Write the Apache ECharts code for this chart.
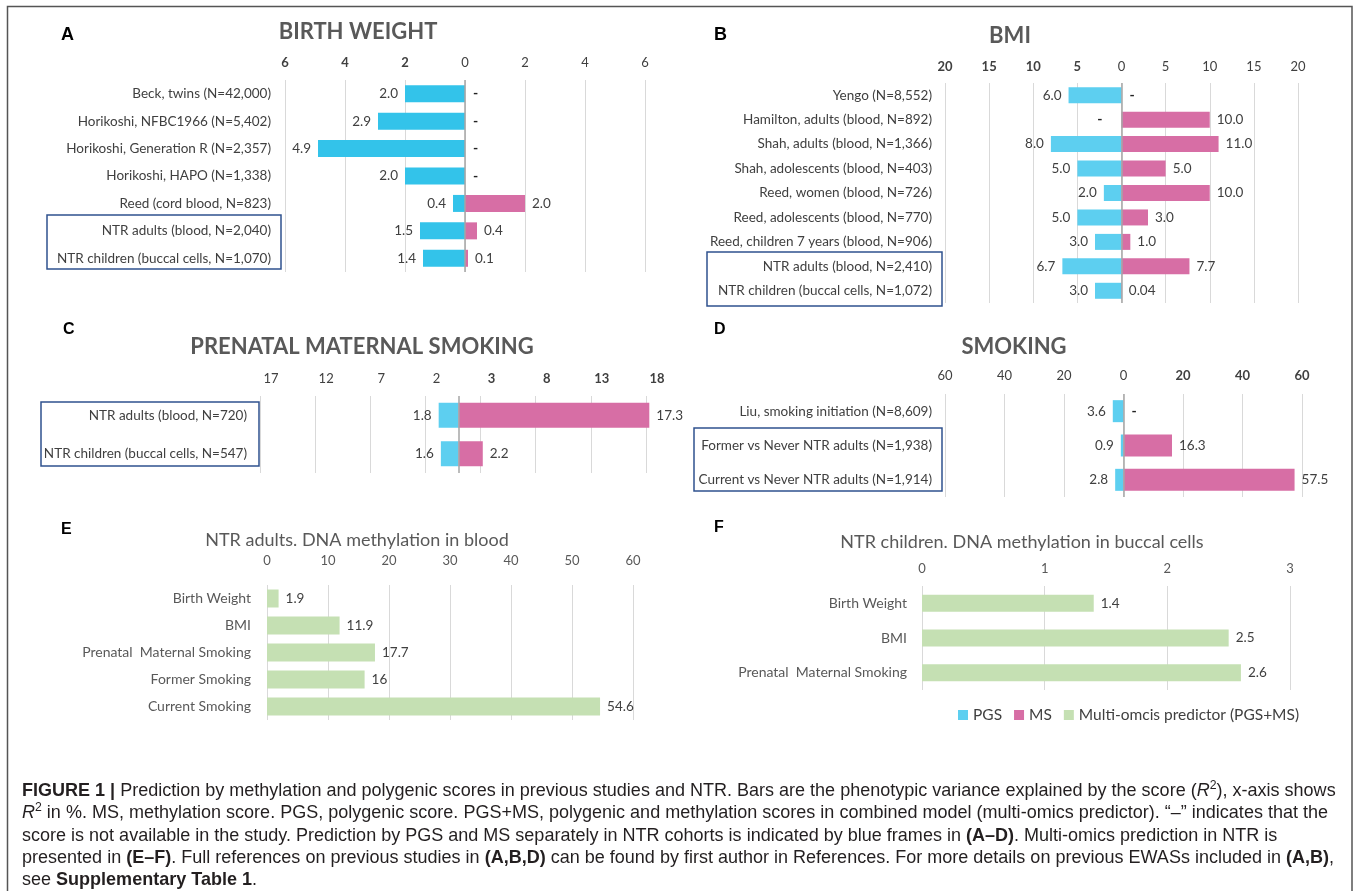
<!DOCTYPE html>
<html><head><meta charset="utf-8">
<script src="https://cdn.jsdelivr.net/npm/echarts@6/dist/echarts.min.js"></script>
<style>
html,body{margin:0;padding:0;background:#fff;}
#chart{position:absolute;left:0;top:0;width:1357px;height:891px;}
#caption{position:absolute;left:22px;top:779px;font-family:"Liberation Sans",Arial,sans-serif;color:#231f20;line-height:22.3px;font-size:17px;}
#caption div{white-space:nowrap;}
#caption sup{font-size:0.68em;line-height:0;}
</style></head><body>
<div id="chart"></div>
<div id="caption">
<div id="cap1"><b>FIGURE 1 |</b> Prediction by methylation and polygenic scores in previous studies and NTR. Bars are the phenotypic variance explained by the score (<i>R</i><sup>2</sup>), x-axis shows</div>
<div><i>R</i><sup>2</sup> in %. MS, methylation score. PGS, polygenic score. PGS+MS, polygenic and methylation scores in combined model (multi-omics predictor). “–” indicates that the</div>
<div>score is not available in the study. Prediction by PGS and MS separately in NTR cohorts is indicated by blue frames in <b>(A–D)</b>. Multi-omics prediction in NTR is</div>
<div>presented in <b>(E–F)</b>. Full references on previous studies in <b>(A,B,D)</b> can be found by first author in References. For more details on previous EWASs included in <b>(A,B)</b>,</div>
<div>see <b>Supplementary Table 1</b>.</div>
</div>
<script>
// ---------------- DATA ----------------
const A_cats = ['Beck, twins (N=42,000)', 'Horikoshi, NFBC1966 (N=5,402)', 'Horikoshi, Generation R (N=2,357)', 'Horikoshi, HAPO (N=1,338)', 'Reed (cord blood, N=823)', 'NTR adults (blood, N=2,040)', 'NTR children (buccal cells, N=1,070)'];
const A_pgs = [2.0, 2.9, 4.9, 2.0, 0.4, 1.5, 1.4];
const A_ms = [null, null, null, null, 2.0, 0.4, 0.1];

const B_cats = ['Yengo (N=8,552)', 'Hamilton, adults (blood, N=892)', 'Shah, adults (blood, N=1,366)', 'Shah, adolescents (blood, N=403)', 'Reed, women (blood, N=726)', 'Reed, adolescents (blood, N=770)', 'Reed, children 7 years (blood, N=906)', 'NTR adults (blood, N=2,410)', 'NTR children (buccal cells, N=1,072)'];
const B_pgs = [6.0, null, 8.0, 5.0, 2.0, 5.0, 3.0, 6.7, 3.0];
const B_ms = [null, 10.0, 11.0, 5.0, 10.0, 3.0, 1.0, 7.7, 0.04];

const C_cats = ['NTR adults (blood, N=720)', 'NTR children (buccal cells, N=547)'];
const C_pgs = [1.8, 1.6];
const C_ms = [17.3, 2.2];
const C_tickLabels = ['17', '12', '7', '2', '3', '8', '13', '18'];

const D_cats = ['Liu, smoking initiation (N=8,609)', 'Former vs Never NTR adults (N=1,938)', 'Current vs Never NTR adults (N=1,914)'];
const D_pgs = [3.6, 0.9, 2.8];
const D_ms = [null, 16.3, 57.5];

const E_cats = ['Birth Weight', 'BMI', 'Prenatal  Maternal Smoking', 'Former Smoking', 'Current Smoking'];
const E_vals = [1.9, 11.9, 17.7, 16, 54.6];

const F_cats = ['Birth Weight', 'BMI', 'Prenatal  Maternal Smoking'];
const F_vals = [1.4, 2.5, 2.6];

const NAME_PGS = 'PGS', NAME_MS = 'MS', NAME_MULTI = 'Multi-omcis predictor (PGS+MS)';

// ---------------- STYLE / LAYOUT ----------------
const FONT = 'Lato, "Open Sans", sans-serif';
const TXT = '#404040';
const BLUE_A = '#33c3ea', BLUE = '#5dcff0', PINK = '#d76ea5', GREEN = '#c5e0b3';
const GRIDC = '#d9d9d9', ZEROC = '#a6a6a6';

const grids = [], xAxes = [], yAxes = [], series = [];

function fmt(v) { return v < 0.1 ? v.toFixed(2) : v.toFixed(1); }

function butterfly(idx, L, cats, pgs, ms, pgsColor, axisOpt, tickFmt, labelPad) {
  grids.push({ left: L.left, top: L.top, width: L.width, height: L.height });
  xAxes.push(Object.assign({
    type: 'value', gridIndex: idx, position: 'top',
    axisLine: { show: false }, axisTick: { show: false },
    splitLine: { show: true, lineStyle: { color: GRIDC, width: 1 } },
    axisLabel: {
      margin: L.tickMargin, fontSize: 13, color: TXT, formatter: tickFmt, padding: labelPad || 0,
      rich: { b: { fontWeight: 'bold', fontSize: 13, color: TXT, fontFamily: FONT }, r: { fontSize: 13, color: TXT, fontFamily: FONT } }
    }
  }, axisOpt));
  yAxes.push({
    type: 'category', gridIndex: idx, inverse: true, data: cats,
    axisLine: { show: false }, axisTick: { show: false },
    axisLabel: { margin: L.labelMargin, fontSize: 13.5, color: TXT }
  });
  series.push({
    type: 'bar', name: NAME_PGS, xAxisIndex: idx, yAxisIndex: idx, barWidth: L.barWidth, barGap: '-100%', clip: false,
    itemStyle: { color: pgsColor },
    label: { show: true, position: 'left', distance: 7, fontSize: 13.5, color: TXT, formatter: p => fmt(Math.abs(p.value)) },
    data: pgs.map(v => v == null
      ? { value: 0, label: { show: true, position: 'left', distance: 19, formatter: '-', fontWeight: 'bold', fontSize: 14, color: '#222' } }
      : -v),
    markLine: {
      silent: true, symbol: ['none', 'none'], label: { show: false }, animation: false,
      lineStyle: { color: ZEROC, type: 'solid', width: 1.5 },
      data: [{ xAxis: 0 }]
    }
  });
  series.push({
    type: 'bar', name: NAME_MS, xAxisIndex: idx, yAxisIndex: idx, barWidth: L.barWidth, barGap: '-100%', clip: false,
    itemStyle: { color: PINK },
    label: { show: true, position: 'right', distance: 7, fontSize: 13.5, color: TXT, formatter: p => fmt(p.value) },
    data: ms.map(v => v == null
      ? { value: 0, label: { show: true, position: 'right', distance: 8, formatter: '-', fontWeight: 'bold', fontSize: 14, color: '#222' } }
      : v)
  });
}

function single(idx, L, cats, vals, axisOpt) {
  grids.push({ left: L.left, top: L.top, width: L.width, height: L.height });
  xAxes.push(Object.assign({
    type: 'value', gridIndex: idx, position: 'top',
    axisLine: { show: false }, axisTick: { show: false },
    splitLine: { show: true, lineStyle: { color: GRIDC, width: 1 } },
    axisLabel: { margin: L.tickMargin, fontSize: 13, color: '#595959' }
  }, axisOpt));
  yAxes.push({
    type: 'category', gridIndex: idx, inverse: true, data: cats,
    axisLine: { show: false }, axisTick: { show: false },
    axisLabel: { margin: L.labelMargin, fontSize: 14, color: '#595959' }
  });
  series.push({
    type: 'bar', name: NAME_MULTI, xAxisIndex: idx, yAxisIndex: idx, barWidth: L.barWidth,
    itemStyle: { color: GREEN },
    label: { show: true, position: 'right', distance: 7, fontSize: 13.5, color: TXT, formatter: p => String(p.value) },
    data: vals
  });
}

const boldNeg = v => v < 0 ? '{b|' + (-v) + '}' : '{r|' + v + '}';
const boldPos = v => v > 0 ? '{b|' + v + '}' : '{r|' + (-v) + '}';

butterfly(0, { left: 285, top: 80, width: 360, height: 192, tickMargin: 11, labelMargin: 14, barWidth: 17 },
  A_cats, A_pgs, A_ms, BLUE_A, { min: -6, max: 6, interval: 2 }, boldNeg);
butterfly(1, { left: 945, top: 83, width: 353, height: 220, tickMargin: 10, labelMargin: 13, barWidth: 16 },
  B_cats, B_pgs, B_ms, BLUE, { min: -20, max: 20, interval: 5 }, boldNeg);
butterfly(2, { left: 260, top: 396, width: 386, height: 77, tickMargin: 11, labelMargin: 13, barWidth: 25 },
  C_cats, C_pgs, C_ms, BLUE, { min: -18, max: 17, interval: 5 },
  v => { const i = Math.round((v + 18) / 5); const t = C_tickLabels[i]; return t == null ? '' : (i >= 4 ? '{b|' + t + '}' : '{r|' + t + '}'); },
  [0, 0, 0, 22]);
butterfly(3, { left: 945, top: 394, width: 357, height: 103, tickMargin: 12, labelMargin: 13, barWidth: 22 },
  D_cats, D_pgs, D_ms, BLUE, { min: -60, max: 60, interval: 20 }, boldPos);
single(4, { left: 267, top: 585, width: 366, height: 135, tickMargin: 18, labelMargin: 16, barWidth: 18 },
  E_cats, E_vals, { min: 0, max: 60, interval: 10 });
single(5, { left: 922, top: 586, width: 368, height: 104, tickMargin: 11, labelMargin: 15, barWidth: 17 },
  F_cats, F_vals, { min: 0, max: 3, interval: 1 });

function txt(x, y, s, size, weight, color, align) {
  return { type: 'text', x: x, y: y, silent: true, style: { text: s, fontSize: size, fontWeight: weight, fill: color, fontFamily: FONT, align: align || 'center', verticalAlign: 'middle' } };
}
function letter(x, y, s, size) {
  return { type: 'text', x: x, y: y, silent: true, style: { text: s, fontSize: size, fontWeight: 'bold', fill: '#000', fontFamily: '"Liberation Sans", Arial, sans-serif', align: 'left', verticalAlign: 'middle' } };
}
function frame(x1, y1, x2, y2) {
  return { type: 'rect', silent: true, shape: { x: x1, y: y1, width: x2 - x1, height: y2 - y1 }, style: { fill: 'none', stroke: '#2f528f', lineWidth: 1.5 } };
}

const graphics = [
  { type: 'rect', silent: true, shape: { x: 7.5, y: 6.5, width: 1344.5, height: 900 }, style: { fill: 'none', stroke: '#555', lineWidth: 1.5 } },
  letter(61, 35, 'A', 18), letter(714, 35, 'B', 18), letter(63, 330, 'C', 16), letter(714, 330, 'D', 16), letter(61, 530, 'E', 16), letter(714, 528, 'F', 16),
  txt(358, 32, 'BIRTH WEIGHT', 22, 'bold', '#595959'),
  txt(1010, 36, 'BMI', 22, 'bold', '#595959'),
  txt(362, 347, 'PRENATAL MATERNAL SMOKING', 22, 'bold', '#595959'),
  txt(1014, 347, 'SMOKING', 22, 'bold', '#595959'),
  txt(357, 540, 'NTR adults. DNA methylation in blood', 18, 'normal', '#595959'),
  txt(1022, 542, 'NTR children. DNA methylation in buccal cells', 18, 'normal', '#595959'),
  frame(47, 215, 281, 269),
  frame(707, 252, 942, 306),
  frame(41, 402, 259, 466),
  frame(694, 428, 942, 491)
];

const chart = echarts.init(document.getElementById('chart'), null, { renderer: 'canvas' });
chart.setOption({
  animation: false,
  textStyle: { fontFamily: FONT },
  grid: grids, xAxis: xAxes, yAxis: yAxes, series: series,
  legend: {
    left: 953, top: 702, itemWidth: 10, itemHeight: 10, itemGap: 12, icon: 'rect', selectedMode: false,
    textStyle: { fontSize: 15.5, color: TXT },
    data: [{ name: NAME_PGS, itemStyle: { color: BLUE } }, { name: NAME_MS, itemStyle: { color: PINK } }, { name: NAME_MULTI, itemStyle: { color: GREEN } }]
  },
  graphic: graphics
});

// fit caption width
(function () {
  const c1 = document.getElementById('cap1');
  const w = c1.getBoundingClientRect().width;
  const target = 1314;
  const cap = document.getElementById('caption');
  cap.style.fontSize = (17 * target / w) + 'px';
})();
</script>
</body></html>
